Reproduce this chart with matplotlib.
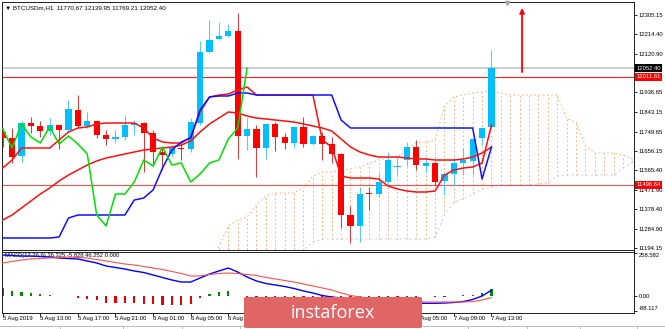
import numpy as np
import matplotlib
matplotlib.use("Agg")
import matplotlib.pyplot as plt
import matplotlib.transforms as mtransforms
from matplotlib.patches import FancyBboxPatch
from matplotlib.lines import Line2D

plt.rcParams['font.family'] = ['Liberation Sans', 'DejaVu Sans']

# --- BTCUSDm H1, 5 Aug 09:00 .. 7 Aug 13:00 ---
opens = np.array([11748.0, 11719.3, 11633.4, 11790.9, 11776.6, 11752.8, 11781.4, 11757.5, 11853.0, 11776.6,
                  11800.5, 11733.6, 11714.6, 11724.1, 11781.4, 11790.9, 11743.2, 11652.5, 11643.0, 11671.6,
                  11666.8, 11790.9, 12129.9, 12192.0, 12206.3, 12230.2, 11728.9, 11762.3, 11671.6, 11786.2,
                  11724.1, 11695.5, 11771.9, 11690.7, 11728.9, 11690.7, 11643.0, 11351.7, 11299.2, 11456.7,
                  11451.9, 11509.3, 11580.9, 11614.3, 11676.4, 11585.7, 11600.0, 11514.1, 11547.5, 11600.0,
                  11609.6, 11719.3, 11770.67])
highs = np.array([11767.1, 11767.1, 11800.5, 11819.6, 11800.5, 11814.8, 11783.0, 11900.8, 11924.6, 11843.5,
                  11805.3, 11757.5, 11757.5, 11829.2, 11805.3, 11795.7, 11757.5, 11676.4, 11685.9, 11695.5,
                  11814.8, 12182.5, 12282.7, 12273.2, 12263.6, 12316.1, 11814.8, 11781.4, 11790.9, 11795.7,
                  11743.2, 11776.6, 11819.6, 11733.6, 11748.0, 11724.1, 11647.7, 11394.6, 11485.4, 11485.4,
                  11552.3, 11652.5, 11628.6, 11700.2, 11709.8, 11628.6, 11604.8, 11557.0, 11623.9, 11671.6,
                  11714.6, 11767.1, 12139.95])
lows = np.array([11676.4, 11600.0, 11604.8, 11743.2, 11724.1, 11733.6, 11666.8, 11748.0, 11771.9, 11767.1,
                 11719.3, 11685.9, 11695.5, 11709.8, 11733.6, 11557.0, 11585.7, 11566.6, 11628.6, 11614.3,
                 11652.5, 11781.4, 12125.2, 12187.2, 12201.6, 11619.1, 11662.0, 11533.2, 11619.1, 11657.3,
                 11666.8, 11671.6, 11676.4, 11685.9, 11614.3, 11600.0, 11289.6, 11218.0, 11222.8, 11375.6,
                 11437.6, 11504.5, 11542.7, 11585.7, 11566.6, 11552.3, 11494.9, 11447.2, 11490.2, 11542.7,
                 11542.7, 11685.9, 11769.21])
closes = np.array([11719.3, 11628.6, 11790.9, 11776.6, 11752.8, 11781.4, 11757.5, 11857.8, 11776.6, 11800.5,
                   11733.6, 11714.6, 11724.1, 11781.4, 11790.9, 11743.2, 11652.5, 11638.2, 11671.6, 11666.8,
                   11795.7, 12129.9, 12187.2, 12206.3, 12230.2, 11728.9, 11762.3, 11671.6, 11786.2, 11724.1,
                   11695.5, 11771.9, 11690.7, 11728.9, 11690.7, 11643.0, 11351.7, 11299.2, 11451.9, 11451.9,
                   11509.3, 11614.3, 11585.7, 11676.4, 11590.4, 11600.0, 11509.3, 11547.5, 11600.0, 11614.3,
                   11714.6, 11767.1, 12052.40])

tenkan = [11576.1, 11614.3, 11671.6, 11671.6, 11671.6, 11671.6, 11709.8, 11748.0, 11767.1, 11771.9,
          11786.2, 11790.9, 11790.9, 11790.9, 11790.9, 11767.1, 11719.3, 11700.2, 11695.5, 11695.5,
          11724.1, 11843.5, 11915.1, 11924.6, 11929.4, 11948.6, 11962.8, 11924.6, 11924.6, 11924.6,
          11924.6, 11924.6, 11924.6, 11924.6, 11709.8, 11676.4, 11537.9, 11528.4, 11528.4, 11528.4,
          11523.6, 11490.2, 11475.8, 11466.3, 11461.5, 11461.5, 11466.3, 11542.7, 11566.6, 11576.1,
          11580.9, 11600.0, 11781.4]
kijun = [11241.9, 11241.9, 11241.9, 11241.9, 11241.9, 11241.9, 11246.7, 11337.4, 11351.7, 11351.7,
         11351.7, 11351.7, 11351.7, 11351.7, 11423.3, 11432.9, 11471.1, 11576.1, 11662.0, 11700.2,
         11719.3, 11853.0, 11915.1, 11919.9, 11919.9, 11934.2, 11934.2, 11924.6, 11924.6, 11924.6,
         11924.6, 11924.6, 11924.6, 11924.6, 11924.6, 11924.6, 11805.3, 11767.1, 11767.1, 11767.1,
         11767.1, 11767.1, 11767.1, 11767.1, 11767.1, 11767.1, 11767.1, 11767.1, 11767.1, 11767.1,
         11767.1, 11523.6, 11676.4]
ma = [11327.8, 11351.7, 11385.2, 11418.6, 11451.9, 11480.6, 11514.1, 11542.7, 11566.6, 11590.4,
      11609.6, 11623.9, 11633.4, 11643.0, 11652.5, 11662.0, 11666.8, 11671.6, 11676.4, 11685.9,
      11705.0, 11748.0, 11786.2, 11814.8, 11843.5, 11838.7, 11824.4, 11814.8, 11810.0, 11805.3,
      11800.5, 11795.7, 11786.2, 11776.6, 11767.1, 11752.8, 11714.6, 11676.4, 11652.5, 11638.2,
      11628.6, 11628.6, 11628.6, 11623.9, 11619.1, 11619.1, 11614.3, 11614.3, 11614.3, 11619.1,
      11628.6, 11647.7, 11676.4]

# cloud, from bar 22 to bar 67 (26 bars ahead of the last candle)
cloud_start = 22
span_a = [11127.3, 11198.9, 11299.2, 11327.8, 11342.2, 11399.5, 11442.4, 11456.7, 11456.7, 11456.7,
          11480.6, 11537.9, 11557.0, 11557.0, 11566.6, 11571.3, 11580.9, 11600.0, 11614.3, 11623.9,
          11628.6, 11662.0, 11695.5, 11700.2, 11709.8, 11872.1, 11915.1, 11924.6, 11934.2, 11938.9,
          11943.7, 11934.2, 11924.6, 11924.6, 11924.6, 11924.6, 11924.6, 11924.6, 11810.0, 11795.7,
          11681.1, 11647.7, 11647.7, 11647.7, 11638.2, 11619.1]
span_b = [11127.3, 11127.3, 11127.3, 11127.3, 11127.3, 11127.3, 11127.3, 11127.3, 11127.3, 11127.3,
          11184.6, 11222.8, 11237.1, 11237.1, 11237.1, 11237.1, 11237.1, 11237.1, 11237.1, 11237.1,
          11237.1, 11237.1, 11237.1, 11237.1, 11246.7, 11351.7, 11413.8, 11428.1, 11451.9, 11475.8,
          11485.4, 11494.9, 11494.9, 11494.9, 11494.9, 11499.7, 11504.5, 11537.9, 11542.7, 11542.7,
          11542.7, 11542.7, 11542.7, 11542.7, 11576.1, 11604.8]

macd_main = [246.6, 243.6, 240.6, 240.6, 237.7, 234.7, 228.7, 225.7, 222.7, 210.8,
             198.8, 180.9, 171.9, 162.9, 151.0, 142.0, 127.1, 112.1, 97.2, 85.2,
             85.2, 109.2, 133.0, 151.0, 168.9, 145.0, 115.1, 91.2, 76.3, 67.3,
             58.3, 46.4, 31.5, 19.5, 4.5, -4.4, -10.4, -19.4, -28.3, -34.3,
             -37.3, -40.3, -40.3, -42.1, -42.1, -42.1, -42.1, -40.3, -37.3, -31.3,
             -19.4, 1.6, 36.3]
macd_signal = [198.8, 207.8, 216.7, 222.7, 225.7, 228.7, 231.7, 234.7, 231.7, 228.7,
               219.7, 210.8, 201.8, 192.8, 186.9, 177.9, 168.9, 159.9, 148.0, 136.0,
               121.1, 121.1, 130.1, 136.0, 139.0, 136.0, 130.1, 124.1, 112.1, 103.2,
               94.2, 85.2, 73.3, 61.3, 49.4, 37.4, 19.5, 4.5, -4.4, -10.4,
               -16.4, -22.3, -25.3, -28.3, -31.3, -34.3, -34.3, -34.3, -34.3, -34.3,
               -32.5, -22.3, -8.0]
macd_hist = np.array([52, 34, 28, 22, 16, 10, 4, 2, -11, -17,
                      -20, -38, -38, -38, -41, -44, -44, -54, -54, -54,
                      -44, -8, 16, 25, 34, 4, -5, -5, -5, -5,
                      -5, -5, -5, -5, -5, -5, -5, -5, -5, -5,
                      -5, -5, -5, -5, -5, 3, -3, -3, 3, 5,
                      9, 20, 46])

price_ticks = [12305.15, 12214.40, 12120.90, 11936.65, 11843.15, 11749.65, 11656.15,
               11565.40, 11471.90, 11378.40, 11284.90, 11194.15]
bid_price = 12052.40
level_hi = 12011.61
level_lo = 11496.64
time_ticks = [0, 4, 8, 12, 16, 20, 24, 28, 32, 36, 40, 44, 48, 52]
time_labels = ['5 Aug 2019', '5 Aug 13:00', '5 Aug 17:00', '5 Aug 21:00', '6 Aug 01:00',
               '6 Aug 05:00', '6 Aug 09:00', '6 Aug 13:00', '6 Aug 17:00', '6 Aug 21:00',
               '7 Aug 01:00', '7 Aug 05:00', '7 Aug 09:00', '7 Aug 13:00']

W, H = 665, 329
fs = 4.2


def box(x0, y0, x1, y1):
    # pixel box -> figure fraction
    return [x0 / W, 1 - y1 / H, (x1 - x0) / W, (y1 - y0) / H]


fig = plt.figure(figsize=(W / 100, H / 100), dpi=100)
fig.patch.set_facecolor('white')
ax = fig.add_axes(box(2, 2, 634, 249.5))
ax2 = fig.add_axes(box(2, 251.5, 634, 312.5), sharex=ax)

x = np.arange(len(closes))

# cloud (dotted hatch)
cx = np.arange(cloud_start, cloud_start + len(span_a))
ax.vlines(cx, span_b, span_a, colors='#f4a460', linestyles=(0, (2, 3)), lw=0.6, zorder=1)
ax.plot(cx, span_a, color='#f4a460', ls=(0, (2, 3)), lw=0.6, zorder=1)
ax.plot(cx, span_b, color='#d8bfd8', ls=(0, (2, 3)), lw=0.7, zorder=1)

# horizontal levels
ax.axhline(bid_price, color='#c4c4c4', lw=1.2, zorder=2)
ax.axhline(level_hi, color='#ff2020', lw=0.8, zorder=2)
ax.axhline(level_lo, color='#ff5050', lw=0.8, zorder=2)

# candles
up = closes >= opens
lo = np.minimum(opens, closes)
hgt = np.maximum(np.abs(closes - opens), 4.5)
ax.vlines(x[up], lows[up], highs[up], color='#5ac8ff', lw=0.8, zorder=3)
ax.vlines(x[~up], lows[~up], highs[~up], color='#c04848', lw=0.8, zorder=3)
ax.bar(x[up], hgt[up], bottom=lo[up], width=0.64, color='#00bfff', zorder=4)
ax.bar(x[~up], hgt[~up], bottom=lo[~up], width=0.64, color='#ff0000', zorder=4)

# indicator lines
ax.plot(x, ma, color='#ff1010', lw=1.1, zorder=5)
ax.plot(x, tenkan, color='#ff1010', lw=1.1, zorder=5)
ax.plot(x, kijun, color='#1010ff', lw=1.1, zorder=6)
ax.plot(x[:len(closes) - 26], closes[26:], color='#00e000', lw=1.1, zorder=6)

# arrow
ax.annotate('', xy=(55.25, 12340), xytext=(55.25, 12034),
            arrowprops=dict(arrowstyle='-|>', color='red', lw=1.3, mutation_scale=7,
                            shrinkA=0, shrinkB=0), zorder=7)
ax.plot(53.65, 12364, marker='v', color='#a8a8a8', ms=3, clip_on=False, zorder=7)

ax.set_xlim(-0.0745, 67.16)
ax.set_ylim(11187.0, 12368.7)
ax.yaxis.tick_right()
ax.set_yticks(price_ticks)
ax.set_yticklabels([f'{v:.2f}' for v in price_ticks])
ax.tick_params(axis='y', length=2, width=0.6, labelsize=fs, pad=1.2)
ax.tick_params(axis='x', bottom=False, labelbottom=False)

ax.text(0.004, 0.988, '\u25bc BTCUSDm,H1  11770.67 12139.95 11769.21 12052.40',
        transform=ax.transAxes, fontsize=fs + 0.3, va='top', ha='left', zorder=10)

trans = mtransforms.blended_transform_factory(ax.transAxes, ax.transData)
for val, bg in [(bid_price, 'black'), (level_hi, '#ff0000'), (level_lo, '#ff0000')]:
    ax.text(1.004, val, f'{val:.2f}', transform=trans, fontsize=fs, color='white',
            va='center', ha='left', clip_on=False, zorder=10,
            bbox=dict(boxstyle='square,pad=0.25', fc=bg, ec='none'))

# MACD panel
colors = np.where(macd_hist >= 0, '#008800', '#ee0000')
ax2.bar(x, macd_hist, width=0.22, color=colors, zorder=2)
ax2.plot(x, macd_main, color='#0000ff', lw=1.0, zorder=3)
ax2.plot(x, macd_signal, color='#ff5050', lw=0.8, zorder=3)
ax2.set_ylim(-97.05, 267.55)
ax2.yaxis.tick_right()
ax2.set_yticks([258.582, 0.0, -88.117])
ax2.set_yticklabels(['258.582', '0.00', '-88.117'])
ax2.tick_params(axis='y', length=2, width=0.6, labelsize=fs, pad=1.2)
labs = ax2.get_yticklabels()
labs[0].set_va('top')
labs[2].set_va('bottom')
ax2.text(0.005, 0.97, 'MACD(12,26,9) 36.325 -5.828 46.252 0.000', transform=ax2.transAxes,
         fontsize=fs, va='top', ha='left', zorder=1)

ax2.set_xticks(time_ticks)
ax2.set_xticklabels(time_labels, ha='left')
ax2.tick_params(axis='x', length=2, width=0.6, labelsize=fs, pad=0.8)

for a in (ax, ax2):
    for s in a.spines.values():
        s.set_linewidth(0.7)
        s.set_color('#202020')

# bottom tab strip
fig.add_artist(Line2D([0, 1], [1 - 326 / H] * 2, transform=fig.transFigure, color='#b4b4b4', lw=0.6))
for sx in [60, 123, 182, 240, 468, 527, 580, 637]:
    fig.add_artist(Line2D([sx / W] * 2, [1 - 326 / H, 0], transform=fig.transFigure,
                          color='#b4b4b4', lw=0.6))

# watermark
wm = FancyBboxPatch((244 / W, 1 - 328 / H), 178 / W, 31 / H,
                    boxstyle='round,pad=0,rounding_size=0.004', transform=fig.transFigure,
                    fc='#e06666', ec='none', zorder=20)
fig.add_artist(wm)
fig.text(333 / W, 1 - 312.5 / H, 'instaforex', color='white', fontsize=13, ha='center',
         va='center', family=['Open Sans', 'DejaVu Sans'], zorder=21)

fig.savefig('out.png', dpi=100)
